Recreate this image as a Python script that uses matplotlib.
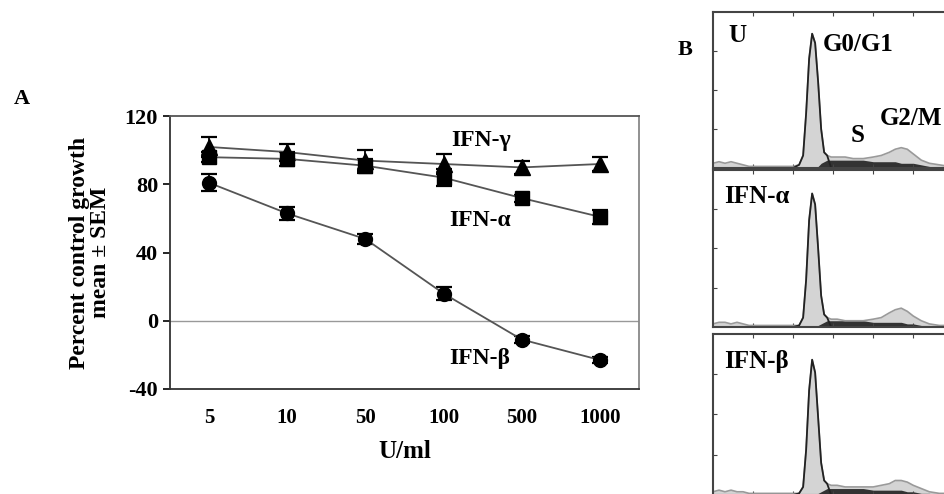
#!/usr/bin/env python3

"""
<file>    plot.py
<brief>   growth inhibition by interferons (A) and cell cycle histograms (B)
"""

import matplotlib.pyplot as plt

# ---- panel A data ----
doses = ["5", "10", "50", "100", "500", "1000"]

ifn_g = [102, 99, 94, 92, 90, 92]
ifn_g_err = [6, 5, 6, 6, 4, 4]

ifn_a = [96, 95, 91, 84, 72, 61]
ifn_a_err = [3, 4, 4, 5, 2, 4]

ifn_b = [81, 63, 48, 16, -11, -23]
ifn_b_err = [5, 4, 3, 4, 2, 2]

# ---- panel B data (DNA content histograms, channel vs count) ----
channels = [0, 6, 12, 18, 24, 30, 36, 42, 50, 60, 70, 80,
            86, 90, 93, 96, 99, 102, 105, 108, 111, 114, 118,
            124, 132, 140, 150, 160, 168, 176, 182, 188, 194, 200,
            208, 216, 226, 236, 246]

u_hist = [3, 4, 3, 4, 3, 2, 1, 1, 1, 1, 1, 1,
          2, 8, 35, 70, 86, 80, 55, 25, 10, 8, 7,
          7, 7, 6, 6, 7, 8, 10, 12, 13, 12, 9,
          5, 3, 2, 1, 1]
u_s = [0, 0, 0, 0, 0, 0, 0, 0, 0, 0, 0, 0,
       0, 0, 0, 0, 0, 0, 1, 3, 4, 5, 5,
       5, 5, 5, 5, 4, 4, 4, 4, 3, 3, 3,
       2, 1, 0, 0, 0]

a_hist = [2, 3, 3, 2, 3, 2, 1, 1, 1, 1, 1, 1,
          1, 6, 30, 68, 85, 78, 50, 20, 8, 6, 5,
          5, 4, 4, 4, 5, 6, 9, 11, 12, 10, 7,
          4, 2, 1, 1, 1]
a_s = [0, 0, 0, 0, 0, 0, 0, 0, 0, 0, 0, 0,
       0, 0, 0, 0, 0, 0, 1, 2, 3, 4, 4,
       4, 4, 4, 4, 3, 3, 3, 3, 3, 2, 2,
       1, 1, 0, 0, 0]

b_hist = [2, 3, 2, 3, 2, 2, 1, 1, 1, 1, 1, 1,
          1, 5, 28, 65, 84, 76, 48, 20, 9, 7, 6,
          6, 5, 5, 5, 5, 6, 7, 9, 9, 8, 6,
          4, 2, 1, 1, 1]
b_s = [0, 0, 0, 0, 0, 0, 0, 0, 0, 0, 0, 0,
       0, 0, 0, 0, 0, 0, 1, 2, 3, 4, 4,
       4, 4, 4, 4, 3, 3, 3, 3, 3, 2, 2,
       1, 1, 0, 0, 0]

plt.rcParams['font.family'] = ['Liberation Serif', 'DejaVu Serif']
plt.rcParams['font.weight'] = 'bold'
plt.rcParams['axes.unicode_minus'] = False

fig = plt.figure(figsize=(9.44, 4.94), dpi=100)

# ---------------- panel A ----------------
ax = fig.add_axes([0.180, 0.2126, 0.497, 0.552])
x = list(range(len(doses)))

for vals, errs, mk, ms in [(ifn_g, ifn_g_err, '^', 11),
                           (ifn_a, ifn_a_err, 's', 9.5),
                           (ifn_b, ifn_b_err, 'o', 10)]:
    ax.errorbar(x, vals, yerr=errs, color='#555555', ecolor='black',
                elinewidth=1.3, capsize=5.5, capthick=1.6, lw=1.3,
                marker=mk, ms=ms, mfc='black', mec='black')

ax.axhline(0, color='#999999', lw=1)
ax.set_xlim(-0.5, 5.5)
ax.set_ylim(-40, 120)
ax.set_yticks([-40, 0, 40, 80, 120])
ax.set_xticks(x)
ax.set_xticklabels(doses)
ax.tick_params(axis='x', length=0, pad=14, labelsize=15)
ax.tick_params(axis='y', direction='out', length=5, width=1.2, labelsize=16)
for s in ax.spines.values():
    s.set_linewidth(1.3)
    s.set_color('#333333')
ax.spines['right'].set_color('#888888')
ax.spines['top'].set_color('#555555')

ax.set_ylabel("Percent control growth\nmean \u00b1 SEM", fontsize=17,
              fontweight='bold', labelpad=10, linespacing=1.0)
ax.set_xlabel("U/ml", fontsize=18, fontweight='bold', labelpad=8)

ax.text(3.1, 106, "IFN-\u03b3", fontsize=17, fontweight='bold', va='center')
ax.text(3.07, 59, "IFN-\u03b1", fontsize=17, fontweight='bold', va='center')
ax.text(3.07, -22, "IFN-\u03b2", fontsize=17, fontweight='bold', va='center')

fig.text(0.023, 0.80, "A", fontsize=16, fontweight='bold',
         ha='center', va='center')

# ---------------- panel B ----------------
panels = [
    (u_hist, u_s, [0.7553, 0.660, 0.262, 0.316], "U"),
    (a_hist, a_s, [0.7553, 0.338, 0.262, 0.318], "IFN-\u03b1"),
    (b_hist, b_s, [0.7553, -0.002, 0.262, 0.326], "IFN-\u03b2"),
]

for hist, sph, pos, name in panels:
    bx = fig.add_axes(pos)
    bx.fill_between(channels, hist, color='#d4d4d4', lw=0)
    bx.plot(channels, hist, color='#9a9a9a', lw=1.2)
    g1 = [h if 84 <= c <= 116 else 0 for c, h in zip(channels, hist)]
    bx.plot(channels, g1, color='#222222', lw=1.3)
    bx.fill_between(channels, sph, color='#333333', lw=0)
    bx.set_xlim(0, 247)
    bx.set_ylim(0, 100)
    bx.set_xticks([40, 80, 120, 160, 200, 240])
    bx.set_yticks([25, 50, 75])
    bx.tick_params(direction='in', length=3, top=True, right=False,
                   labelleft=False, labelbottom=False, color='#444444')
    for s in bx.spines.values():
        s.set_linewidth(1.5)
        s.set_color('#444444')
    if name == "U":
        bx.text(0.097, 0.85, name, transform=bx.transAxes, fontsize=18,
                fontweight='bold', ha='center', va='center')
        bx.text(0.445, 0.79, "G0/G1", transform=bx.transAxes, fontsize=18,
                fontweight='bold', va='center')
        bx.text(0.583, 0.21, "S", transform=bx.transAxes, fontsize=18,
                fontweight='bold', ha='center', va='center')
        bx.text(0.676, 0.32, "G2/M", transform=bx.transAxes, fontsize=18,
                fontweight='bold', va='center')
    else:
        bx.text(0.045, 0.83, name, transform=bx.transAxes, fontsize=18,
                fontweight='bold', va='center')

fig.text(0.726, 0.899, "B", fontsize=16, fontweight='bold',
         ha='center', va='center')

plt.savefig("out.png", dpi=100)
plt.close()
